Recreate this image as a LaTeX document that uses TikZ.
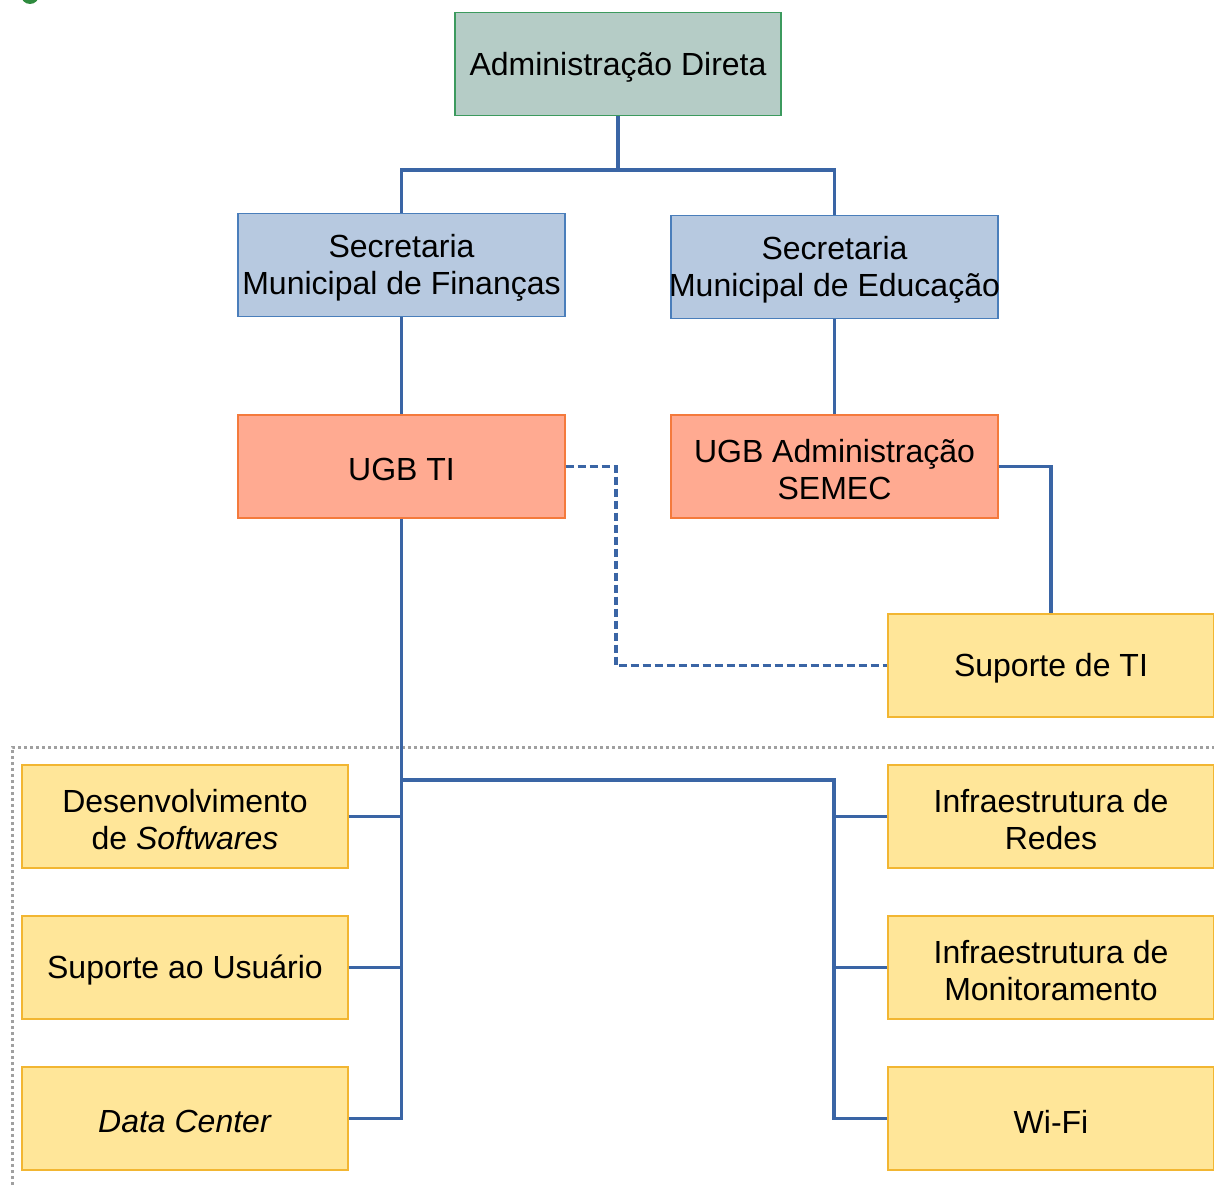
\documentclass[tikz,border=0pt]{standalone}
\usepackage{fontspec}
\setmainfont{Liberation Sans}
\begin{document}
\begin{tikzpicture}[x=1pt,y=-1pt,
  box/.style={draw, line width=1.3pt, minimum width=326pt, minimum height=103pt, inner sep=0pt},
  txt/.style={align=center, inner sep=0pt, yshift=-3pt, font=\fontsize{32}{37}\selectfont},
  admbox/.style={box, fill=admfill, draw=admline},
  secbox/.style={box, fill=secfill, draw=secline},
  ugbbox/.style={box, fill=ugbfill, draw=ugbline},
  ylwbox/.style={box, fill=ylwfill, draw=ylwline},
  conn/.style={draw=connc, line width=3.8pt},
  dconn/.style={conn, dash pattern=on 8pt off 4pt},
  ]
\definecolor{admfill}{HTML}{B5CCC6}
\definecolor{admline}{HTML}{3C9A5E}
\definecolor{secfill}{HTML}{B7C9E0}
\definecolor{secline}{HTML}{4A7EBB}
\definecolor{ugbfill}{HTML}{FFAA91}
\definecolor{ugbline}{HTML}{F47A3C}
\definecolor{ylwfill}{HTML}{FFE699}
\definecolor{ylwline}{HTML}{F2B632}
\definecolor{connc}{HTML}{3A65A5}
\definecolor{dotc}{HTML}{A0A0A0}
\definecolor{blobc}{HTML}{2E8B3E}
\useasboundingbox (0,0) rectangle (1214,1185);
\begin{scope}
\clip (0,0) rectangle (1214,1185);
\fill[blobc] (30,-5) circle (9);
\end{scope}
% dotted frame
\draw[dotc, line width=3pt, dash pattern=on 3pt off 3pt] (12,1185) -- (12,747) -- (1214,747);
% nodes
\node[admbox, label={[txt]center:Administração Direta}] (adm) at (618,64) {};
\node[secbox, minimum width=327pt, label={[txt]center:Secretaria\\Municipal de Finanças}] (fin) at (401.5,265) {};
\node[secbox, minimum width=327pt, label={[txt]center:Secretaria\\Municipal de Educação}] (edu) at (834.5,267) {};
\node[ugbbox, minimum width=327pt, label={[txt]center:UGB TI}] (ugbti) at (401.5,466.5) {};
\node[ugbbox, minimum width=327pt, label={[txt]center:UGB Administração\\SEMEC}] (semec) at (834.5,466.5) {};
\node[ylwbox, label={[txt]center:Suporte de TI}] (sup) at (1051,665.5) {};
\node[ylwbox, label={[txt]center:Desenvolvimento\\de \textit{Softwares}}] (dev) at (185,816.5) {};
\node[ylwbox, label={[txt]center:Suporte ao Usuário}] (usr) at (185,967.5) {};
\node[ylwbox, label={[txt]center:\textit{Data Center}}] (dc) at (185,1118.5) {};
\node[ylwbox, label={[txt]center:Infraestrutura de\\Redes}] (redes) at (1051,816.5) {};
\node[ylwbox, label={[txt]center:Infraestrutura de\\Monitoramento}] (mon) at (1051,967.5) {};
\node[ylwbox, label={[txt]center:Wi-Fi}] (wifi) at (1051,1118.5) {};
% connectors
\coordinate (j1) at (618,170);
\coordinate (j2) at (401.5,780);
\coordinate (rv) at (834,780);
\draw[conn] (adm.south) -- (j1);
\draw[conn] (fin.north) |- (j1) -| (edu.north);
\draw[conn] (fin.south) -- (ugbti.north);
\draw[conn] (edu.south) -- (semec.north);
\draw[conn] (semec.east) -| (sup.north);
\draw[dconn] (ugbti.east) -- ++(50,0) |- (sup.west);
\draw[conn] (ugbti.south) |- (dc.east);
\draw[conn] (dev.east) -- (dev.east -| ugbti.south);
\draw[conn] (usr.east) -- (usr.east -| ugbti.south);
\draw[conn] (j2) -- (rv) |- (wifi.west);
\draw[conn] (redes.west) -- (redes.west -| rv);
\draw[conn] (mon.west) -- (mon.west -| rv);
\end{tikzpicture}
\end{document}
